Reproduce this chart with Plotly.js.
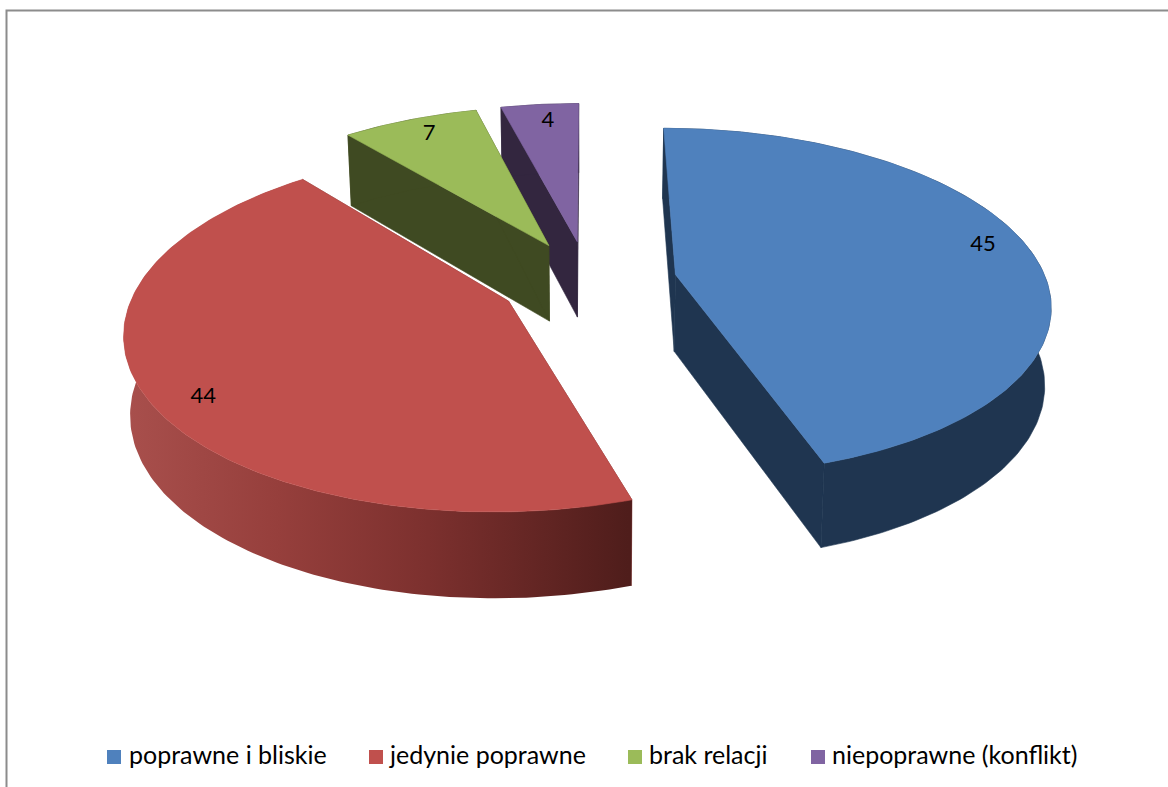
<!DOCTYPE html>
<html lang="pl">
<head>
<meta charset="utf-8">
<title>Relacje</title>
<script src="https://cdn.plot.ly/plotly-3.0.1.min.js"></script>
<style>html,body{margin:0;padding:0;background:#fff}#chart{width:1168px;height:787px}</style>
</head>
<body>
<div id="chart"></div>
<script>
// ---- data ----
const categories = ['poprawne i bliskie', 'jedynie poprawne', 'brak relacji', 'niepoprawne (konflikt)'];
const values = [45, 44, 7, 4];
const topColors = ['#4f81bd', '#c0504d', '#9bbb59', '#8064a2'];
const wallColors = ['#1f3550', '#7c302e', '#3f4a22', '#33263f'];

// ---- 3D pie projection settings ----
const W = 1168, H = 787;
const cx = 588, cy = 281;      // pie centre on the canvas
const radX = 371, radY = 171;  // projected radius scale
const persp = 0.156;           // perspective strength
const explode = 0.24;          // slice explosion (in radii)
const depth = 77;              // wall height at the centre
const baseShrink = 0.986;      // horizontal shrink of the lower rim
const labelRadius = 0.87;
const labelNudgeX = [-1, 9, 3, 4];
const labelNudgeY = [-7, 17, 0, 1];
const startAngle = 0;

function upper(X, Y) {
  const w = 1 - persp * Y;
  return [cx + radX * X / w, cy + radY * Y / w];
}
function lower(X, Y) {
  const w = 1 - persp * Y;
  return [cx + baseShrink * radX * X / w, cy + radY * Y / w + depth * Math.pow(w, -0.6)];
}
const rad = d => d * Math.PI / 180;
const total = values.reduce((a, b) => a + b, 0);

let cursor = startAngle;
const slices = values.map((v, i) => {
  const a0 = cursor, a1 = cursor + v / total * 360;
  cursor = a1;
  const mid = (a0 + a1) / 2;
  const ox = explode * Math.sin(rad(mid)), oy = -explode * Math.cos(rad(mid));
  const ground = [];
  const n = Math.max(4, Math.ceil(a1 - a0));
  for (let k = 0; k <= n; k++) {
    const a = a0 + (a1 - a0) * k / n;
    ground.push([ox + Math.sin(rad(a)), oy - Math.cos(rad(a))]);
  }
  return {i, v, mid, ox, oy, ground};
});

function poly(pts, color, extra) {
  const closed = pts.concat([pts[0]]);
  return Object.assign({
    type: 'scatter', mode: 'lines', x: closed.map(p => p[0]), y: closed.map(p => p[1]),
    fill: 'toself', fillcolor: color, line: {color: color, width: 0.6},
    hoverinfo: 'skip', showlegend: false
  }, extra || {});
}

const traces = [];
// far slices first, so that nearer ones cover them
slices.slice().sort((a, b) => (-Math.cos(rad(a.mid))) - (-Math.cos(rad(b.mid)))).forEach(s => {
  const wall = wallColors[s.i];
  const apex = [s.ox, s.oy];
  const first = s.ground[0], last = s.ground[s.ground.length - 1];
  traces.push(poly([upper(...apex), upper(...first), lower(...first), lower(...apex)], wall));
  traces.push(poly([upper(...apex), upper(...last), lower(...last), lower(...apex)], wall));
  const rim = s.ground.map(g => upper(...g)).concat(s.ground.slice().reverse().map(g => lower(...g)));
  const extra = s.i === 1 ? {
    line: {width: 0, color: wall},
    fillgradient: {
      type: 'horizontal', start: 128, stop: 628,
      colorscale: [[0, '#a84f4c'], [0.3, '#963f3c'], [0.6, '#7c302e'], [1, '#4f1d1b']]
    }
  } : {};
  traces.push(poly(rim, wall, extra));
  traces.push(poly([upper(...apex)].concat(s.ground.map(g => upper(...g))), topColors[s.i], {name: categories[s.i]}));
});

// data labels
slices.forEach(s => {
  const p = upper(s.ox + labelRadius * Math.sin(rad(s.mid)), s.oy - labelRadius * Math.cos(rad(s.mid)));
  traces.push({
    type: 'scatter', mode: 'text', x: [p[0] + labelNudgeX[s.i]], y: [p[1] + labelNudgeY[s.i]], text: [String(s.v)],
    textposition: 'middle center', textfont: {family: 'Lato, sans-serif', size: 22, color: '#000'},
    hoverinfo: 'skip', showlegend: false
  });
});

// key under the pie
const keySquareX = [114, 376, 635, 818];
const keyTextX = [129, 390, 649, 832];
const keyY = 757;
categories.forEach((c, i) => {
  traces.push({
    type: 'scatter', mode: 'markers', x: [keySquareX[i]], y: [keyY],
    marker: {symbol: 'square', size: 14, color: topColors[i]},
    hoverinfo: 'skip', showlegend: false
  });
  traces.push({
    type: 'scatter', mode: 'text', x: [keyTextX[i]], y: [keyY + 1], text: [c],
    textposition: 'middle right', textfont: {family: 'Lato, sans-serif', size: 25, color: '#000'},
    hoverinfo: 'skip', showlegend: false
  });
});

const layout = {
  width: W, height: H, margin: {l: 0, r: 0, t: 0, b: 0},
  paper_bgcolor: '#fff', plot_bgcolor: '#fff', showlegend: false,
  xaxis: {range: [0, W], visible: false, fixedrange: true},
  yaxis: {range: [H, 0], visible: false, fixedrange: true},
  shapes: [{
    type: 'path', xref: 'x', yref: 'y',
    path: `M 6.5 ${H} L 6.5 10.5 L ${W} 10.5`,
    line: {color: '#8c8c8c', width: 2}
  }]
};
Plotly.newPlot('chart', traces, layout, {displayModeBar: false, staticPlot: true});
</script>
</body>
</html>
